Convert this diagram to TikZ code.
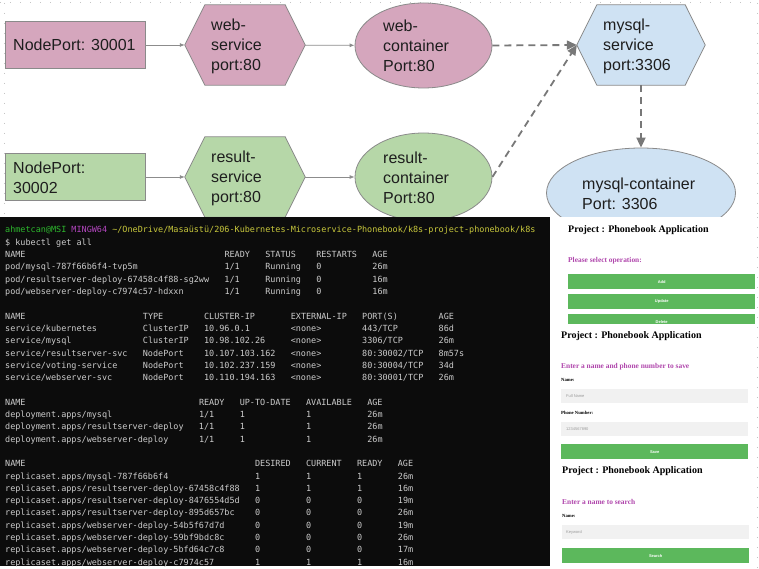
\documentclass[tikz,border=0pt]{standalone}
\usepackage{fontspec}
\setmainfont{Liberation Sans}
\newfontfamily\termfont{DejaVu Sans Mono}
\newfontfamily\webserif{Liberation Serif}
\usetikzlibrary{shapes.geometric,arrows.meta}

\definecolor{pinkfill}{HTML}{D5A6BD}
\definecolor{greenfill}{HTML}{B6D7A8}
\definecolor{bluefill}{HTML}{CFE2F3}
\definecolor{edgegrey}{HTML}{8A8A8A}
\definecolor{arrowgrey}{HTML}{8C8C8C}
\definecolor{dashgrey}{HTML}{787878}
\definecolor{termbg}{HTML}{0C0C0C}
\definecolor{termfg}{HTML}{CCCCCC}
\definecolor{termgreen}{HTML}{2DB82D}
\definecolor{termmag}{HTML}{B446C0}
\definecolor{termyellow}{HTML}{C8C83C}
\definecolor{webpurple}{HTML}{B046AC}
\definecolor{btngreen}{HTML}{5CB85C}
\definecolor{inputgrey}{HTML}{F1F1F1}
\definecolor{phgrey}{HTML}{9A9A9A}
\definecolor{griddot}{HTML}{C4C4C4}
\definecolor{labeltext}{HTML}{1E1E1E}

\newlength\termcw \setlength\termcw{5.1pt}
\newcommand\cell[2]{\makebox[#1\termcw][l]{#2}}
\newcommand\trow[2]{\node[term] (tl#1) at (5,{233+12.3*#1}) {#2};}
\newcommand\hexpath[2]{\draw[hexedge, fill=#2] (#1.west) -- ([xshift=20pt]#1.north west) -- ([xshift=-20pt]#1.north east) -- (#1.east) -- ([xshift=-20pt]#1.south east) -- ([xshift=20pt]#1.south west) -- cycle;}

\tikzset{
  griddots/.style={draw=griddot, line width=1pt, dash pattern=on 1pt off 9pt},
  box/.style={rectangle, draw=edgegrey, line width=0.8pt, minimum width=140pt, minimum height=47pt, inner sep=0pt},
  hexbox/.style={rectangle, minimum height=80pt, inner sep=0pt},
  oval/.style={ellipse, draw=edgegrey, line width=0.8pt, inner sep=0pt},
  hexedge/.style={draw=edgegrey, line width=0.8pt, line join=miter},
  lbl/.style={anchor=west, align=left, inner sep=0pt, font=\fontsize{16}{20}\selectfont, text=labeltext},
  solidarrow/.style={draw=arrowgrey, line width=0.8pt, -{Latex[length=5pt,width=4pt]}},
  dasharrow/.style={draw=dashgrey, line width=1.8pt, dash pattern=on 7pt off 5pt, -{Triangle[length=10pt,width=9pt]}},
  term/.style={anchor=base west, inner sep=0pt, font=\termfont\fontsize{8.47}{10}\selectfont, text=termfg},
  wtitle/.style={anchor=west, inner sep=0pt, font=\webserif\bfseries\fontsize{10}{12}\selectfont, text=black},
  wprompt/.style={anchor=west, inner sep=0pt, font=\webserif\bfseries\fontsize{7.4}{9}\selectfont, text=webpurple},
  wlabel/.style={anchor=west, inner sep=0pt, font=\webserif\bfseries\fontsize{4.7}{5}\selectfont, text=black},
  winput/.style={rectangle, fill=inputgrey, anchor=north west, minimum width=187pt, minimum height=14pt, inner sep=0pt},
  wph/.style={anchor=west, inner sep=0pt, font=\fontsize{4}{5}\selectfont, text=phgrey},
  wbtn/.style={rectangle, fill=btngreen, anchor=north west, minimum height=15pt, inner sep=0pt, font=\bfseries\fontsize{4}{5}\selectfont, text=white},
}

\begin{document}
\begin{tikzpicture}[x=1pt,y=-1pt]
\useasboundingbox (0,0) rectangle (759,569);
\fill[white] (0,0) rectangle (759,569);
\draw[griddots] (0,3) -- (757,3);
\draw[griddots] (4.5,3) -- (4.5,216);
\draw[griddots] (757,3) -- (757,216);

% ---------- diagram ----------
\node[box, fill=pinkfill] (np1) at (75,45) {};
\node[lbl] (np1t) at (13,45) {NodePort: 30001};

\node[hexbox, minimum width=120pt] (ws) at (245,45) {};
\hexpath{ws}{pinkfill}
\node[lbl] (wst) at (211,46) {web-\\service\\port:80};

\node[oval, fill=pinkfill, minimum width=137pt, minimum height=85pt] (wc) at (423.5,45.5) {};
\node[lbl] (wct) at (383,46) {web-\\container\\Port:80};

\node[hexbox, minimum width=128pt] (ms) at (641,45) {};
\hexpath{ms}{bluefill}
\node[lbl] (mst) at (603,46) {mysql-\\service\\port:3306};

\node[oval, fill=bluefill, minimum width=189pt, minimum height=90pt] (mc) at (641,193) {};
\node[lbl] (mct) at (582,194) {mysql-container\\Port: 3306};

\node[box, fill=greenfill] (np2) at (75,177) {};
\node[lbl] (np2t) at (13,178) {NodePort:\\30002};

\node[hexbox, minimum width=120pt] (rs) at (245,177) {};
\hexpath{rs}{greenfill}
\node[lbl] (rst) at (211,178) {result-\\service\\port:80};

\node[oval, fill=greenfill, minimum width=137pt, minimum height=88pt] (rc) at (423.5,177) {};
\node[lbl] (rct) at (383,178) {result-\\container\\Port:80};

\draw[solidarrow] (np1) -- (ws);
\draw[solidarrow] (ws) -- (wc);
\draw[solidarrow] (np2) -- (rs);
\draw[solidarrow] (rs) -- (rc);
\draw[dasharrow] (wc.east) -- (ms.west);
\draw[dasharrow] (rc.east) -- (ms.west);
\draw[dasharrow] (ms.south) -- (mc.north);

% ---------- terminal ----------
\fill[termbg] (0,217) rectangle (550,566);
\begin{scope}
\clip (0,217) rectangle (550,566);
\trow{0}{\textcolor{termgreen}{ahmetcan@MSI} \textcolor{termmag}{MINGW64} \textcolor{termyellow}{\textasciitilde/OneDrive/Masaüstü/206-Kubernetes-Microservice-Phonebook/k8s-project-phonebook/k8s}}
\trow{1}{\$ kubectl get all}
\trow{2}{\cell{43}{NAME}\cell{8}{READY}\cell{10}{STATUS}\cell{11}{RESTARTS}AGE}
\trow{3}{\cell{43}{pod/mysql-787f66b6f4-tvp5m}\cell{8}{1/1}\cell{10}{Running}\cell{11}{0}26m}
\trow{4}{\cell{43}{pod/resultserver-deploy-67458c4f88-sg2ww}\cell{8}{1/1}\cell{10}{Running}\cell{11}{0}16m}
\trow{5}{\cell{43}{pod/webserver-deploy-c7974c57-hdxxn}\cell{8}{1/1}\cell{10}{Running}\cell{11}{0}16m}
\trow{7}{\cell{27}{NAME}\cell{12}{TYPE}\cell{17}{CLUSTER-IP}\cell{14}{EXTERNAL-IP}\cell{15}{PORT(S)}AGE}
\trow{8}{\cell{27}{service/kubernetes}\cell{12}{ClusterIP}\cell{17}{10.96.0.1}\cell{14}{<none>}\cell{15}{443/TCP}86d}
\trow{9}{\cell{27}{service/mysql}\cell{12}{ClusterIP}\cell{17}{10.98.102.26}\cell{14}{<none>}\cell{15}{3306/TCP}26m}
\trow{10}{\cell{27}{service/resultserver-svc}\cell{12}{NodePort}\cell{17}{10.107.103.162}\cell{14}{<none>}\cell{15}{80:30002/TCP}8m57s}
\trow{11}{\cell{27}{service/voting-service}\cell{12}{NodePort}\cell{17}{10.102.237.159}\cell{14}{<none>}\cell{15}{80:30004/TCP}34d}
\trow{12}{\cell{27}{service/webserver-svc}\cell{12}{NodePort}\cell{17}{10.110.194.163}\cell{14}{<none>}\cell{15}{80:30001/TCP}26m}
\trow{14}{\cell{38}{NAME}\cell{8}{READY}\cell{13}{UP-TO-DATE}\cell{12}{AVAILABLE}AGE}
\trow{15}{\cell{38}{deployment.apps/mysql}\cell{8}{1/1}\cell{13}{1}\cell{12}{1}26m}
\trow{16}{\cell{38}{deployment.apps/resultserver-deploy}\cell{8}{1/1}\cell{13}{1}\cell{12}{1}26m}
\trow{17}{\cell{38}{deployment.apps/webserver-deploy}\cell{8}{1/1}\cell{13}{1}\cell{12}{1}26m}
\trow{19}{\cell{49}{NAME}\cell{10}{DESIRED}\cell{10}{CURRENT}\cell{8}{READY}AGE}
\trow{20}{\cell{49}{replicaset.apps/mysql-787f66b6f4}\cell{10}{1}\cell{10}{1}\cell{8}{1}26m}
\trow{21}{\cell{49}{replicaset.apps/resultserver-deploy-67458c4f88}\cell{10}{1}\cell{10}{1}\cell{8}{1}16m}
\trow{22}{\cell{49}{replicaset.apps/resultserver-deploy-8476554d5d}\cell{10}{0}\cell{10}{0}\cell{8}{0}19m}
\trow{23}{\cell{49}{replicaset.apps/resultserver-deploy-895d657bc}\cell{10}{0}\cell{10}{0}\cell{8}{0}26m}
\trow{24}{\cell{49}{replicaset.apps/webserver-deploy-54b5f67d7d}\cell{10}{0}\cell{10}{0}\cell{8}{0}19m}
\trow{25}{\cell{49}{replicaset.apps/webserver-deploy-59bf9bdc8c}\cell{10}{0}\cell{10}{0}\cell{8}{0}26m}
\trow{26}{\cell{49}{replicaset.apps/webserver-deploy-5bfd64c7c8}\cell{10}{0}\cell{10}{0}\cell{8}{0}17m}
\trow{27}{\cell{49}{replicaset.apps/webserver-deploy-c7974c57}\cell{10}{1}\cell{10}{1}\cell{8}{1}16m}
\end{scope}

% ---------- web app panels ----------
\fill[white] (550,217) rectangle (759,569);
\node[wtitle] (p1t) at (568,230) {Project : Phonebook Application};
\node[wprompt] (p1p) at (568,261) {Please select operation:};
\node[wbtn, minimum width=187pt] (b1) at (568,274) {Add};
\node[wbtn, minimum width=187pt] (b2) at (568,294) {Update};
\node[wbtn, minimum width=187pt] (b3) at (568,314) {Delete};

\fill[white] (550,324) rectangle (759,462);
\node[wtitle] (p2t) at (561,336) {Project : Phonebook Application};
\node[wprompt] (p2p) at (561,367) {Enter a name and phone number to save};
\node[wlabel] (p2n) at (561,380) {Name:};
\node[winput] (i1) at (561,389) {};
\node[wph] (i1t) at (566,396) {Full Name};
\node[wlabel] (p2ph) at (561,413) {Phone Number:};
\node[winput] (i2) at (561,422) {};
\node[wph] (i2t) at (566,429) {1234567890};
\node[wbtn, minimum width=187pt] (b4) at (561,444) {Save};

\fill[white] (550,462) rectangle (759,569);
\node[wtitle] (p3t) at (562,471) {Project : Phonebook Application};
\node[wprompt] (p3p) at (562,502) {Enter a name to search};
\node[wlabel] (p3n) at (562,516) {Name:};
\node[winput] (i3) at (562,525) {};
\node[wph] (i3t) at (566,532) {Keyword};
\node[wbtn, minimum width=187pt] (b5) at (562,548) {Search};

\draw[griddots] (757,217) -- (757,569);
\end{tikzpicture}
\end{document}
